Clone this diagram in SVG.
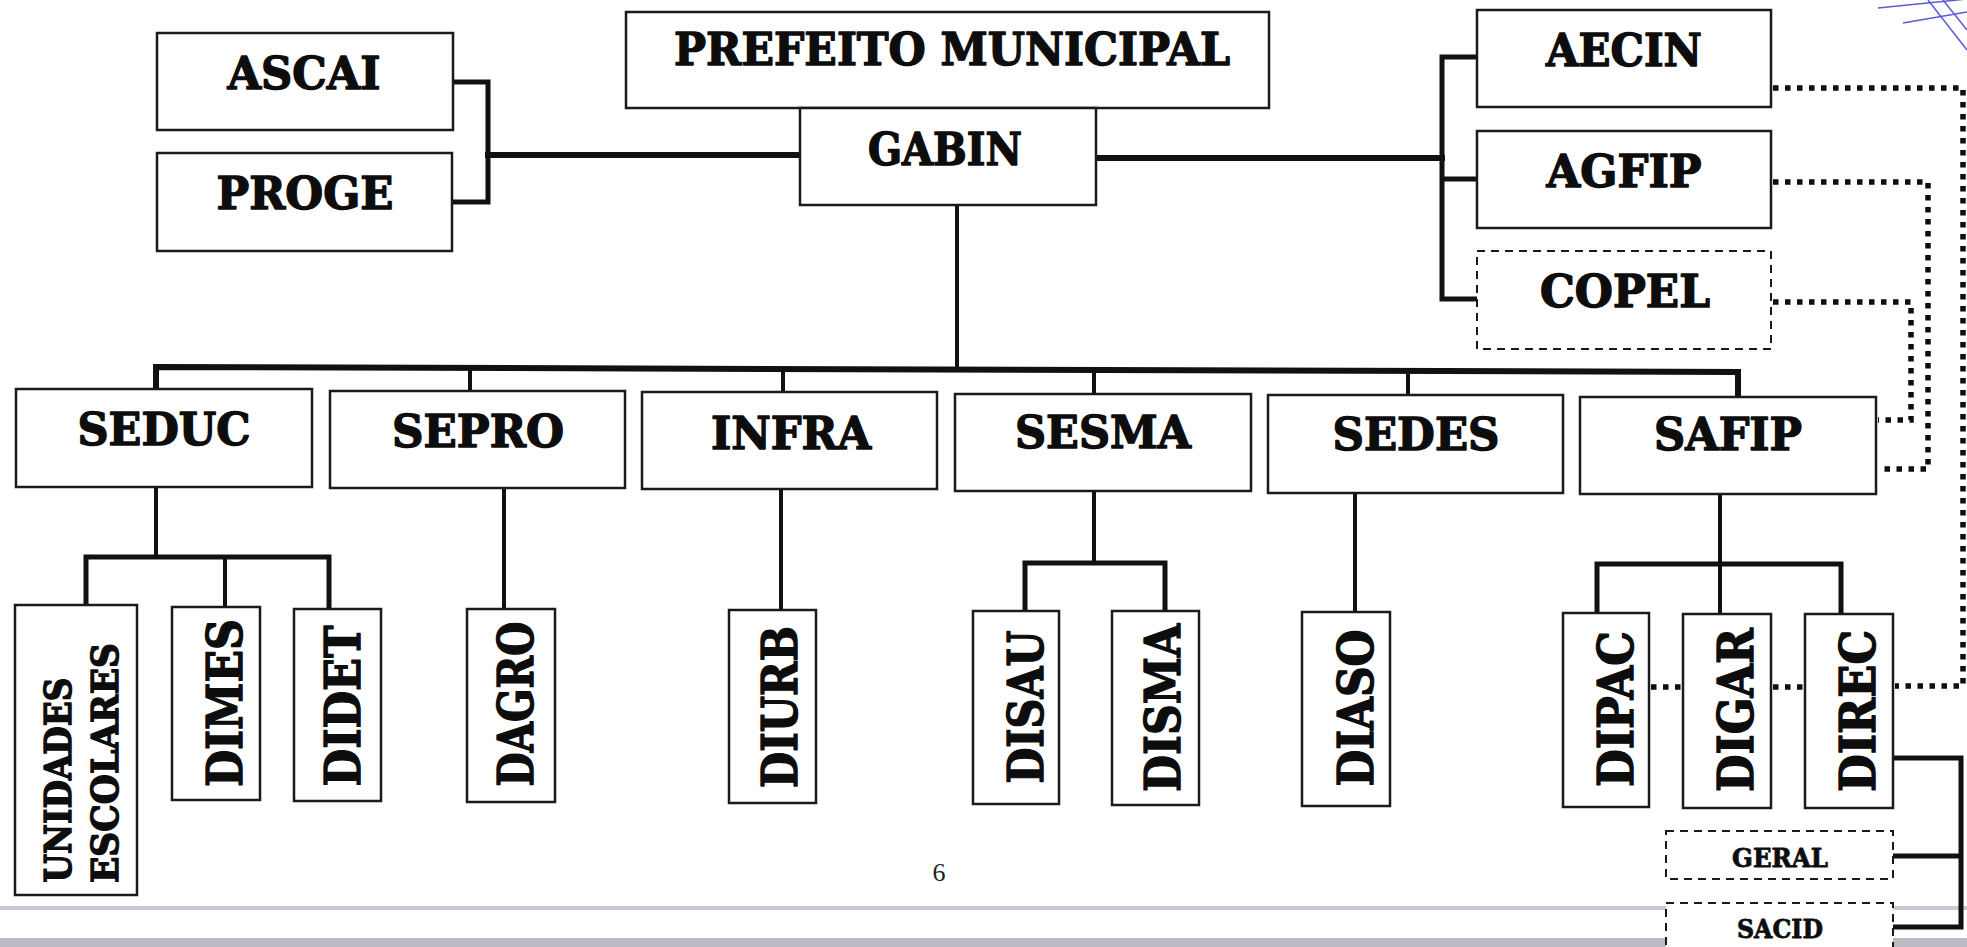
<svg xmlns="http://www.w3.org/2000/svg" width="1967" height="947" viewBox="0 0 1967 947">
<style>
.box{fill:#fff;stroke:#1a1a1a;stroke-width:2.5}
.dbox{fill:#fff;stroke:#1a1a1a;stroke-width:2;stroke-dasharray:8 6}
.t{font-family:"DejaVu Serif","Liberation Serif",serif;font-weight:bold;font-size:44px;fill:#0d0d0d;stroke:#0d0d0d;stroke-width:1.4;stroke-linejoin:round;text-anchor:middle}
.v{font-size:49px}
.u{font-size:37px}
.s{font-size:26px;stroke-width:0.8}
.ln{fill:none;stroke:#111;stroke-linecap:square}
.w6{stroke-width:6}
.w5{stroke-width:5}
.w4{stroke-width:4}
.dot{fill:none;stroke:#0d0d0d;stroke-width:5.5;stroke-dasharray:5.5 6.5}
</style>
<rect x="0" y="0" width="1967" height="947" fill="#fff"/>
<g id="scan">
<line x1="0" y1="908" x2="1967" y2="908" stroke="#c6c9d3" stroke-width="4"/>
<rect x="0" y="938" width="1967" height="9" fill="#b9bac2"/>
<g stroke="#5a5ad8" stroke-width="1.5" fill="none">
<path d="M1878,8 L1967,-1"/>
<path d="M1903,23 L1967,12"/>
<path d="M1928,0 L1967,50"/>
<path d="M1943,0 L1967,30"/>
</g>
</g>
<g id="connectors">
<path class="ln w5" d="M453,82 H488 V202 H452"/>
<path class="ln w6" d="M488,155 H800"/>
<path class="ln w6" d="M1096,158 H1442"/>
<path class="ln w5" d="M1477,57 H1442 V299 H1477 M1442,179 H1477"/>
<path class="ln w4" d="M957,205 V368"/>
<path class="ln w6" d="M156,389 V367 L1738,372 V397"/>
<path class="ln w4" d="M470,368 V391 M783,369 V392 M1094,370 V394 M1408,371 V395"/>
<path class="ln w4" d="M156,487 V557 M225,557 V607"/>
<path class="ln w5" d="M86,605 V557 H329 V609"/>
<path class="ln w4" d="M504,488 V609 M781,489 V610 M1094,491 V563 M1355,493 V612 M1720,494 V614"/>
<path class="ln w5" d="M1025,611 V563 H1165 V611"/>
<path class="ln w5" d="M1597,613 V564 H1841 V614"/>
<path class="ln w5" d="M1893,758 H1961 V927 H1893 M1893,856 H1961"/>
<path class="dot" d="M1773,88 H1963 V686 H1895"/>
<path class="dot" d="M1773,182 H1928 V469 H1878"/>
<path class="dot" d="M1773,302 H1911 V420 H1878"/>
<path class="dot" d="M1651,687 H1683 M1773,687 H1805"/>
</g>
<g id="n-prefeito"><rect class="box" x="626" y="12" width="643" height="96"/><text class="t" x="952" y="65" textLength="556" lengthAdjust="spacingAndGlyphs">PREFEITO MUNICIPAL</text></g>
<g id="n-gabin"><rect class="box" x="800" y="108" width="296" height="97"/><text class="t" x="945" y="165" textLength="154" lengthAdjust="spacingAndGlyphs">GABIN</text></g>
<g id="n-ascai"><rect class="box" x="157" y="33" width="296" height="97"/><text class="t" x="304" y="89" textLength="153" lengthAdjust="spacingAndGlyphs">ASCAI</text></g>
<g id="n-proge"><rect class="box" x="157" y="153" width="295" height="98"/><text class="t" x="305" y="209" textLength="177" lengthAdjust="spacingAndGlyphs">PROGE</text></g>
<g id="n-aecin"><rect class="box" x="1477" y="10" width="294" height="97"/><text class="t" x="1624" y="66" textLength="156" lengthAdjust="spacingAndGlyphs">AECIN</text></g>
<g id="n-agfip"><rect class="box" x="1477" y="131" width="294" height="97"/><text class="t" x="1624" y="187" textLength="155" lengthAdjust="spacingAndGlyphs">AGFIP</text></g>
<g id="n-copel"><rect class="dbox" x="1477" y="251" width="294" height="98"/><text class="t" x="1625" y="307" textLength="170" lengthAdjust="spacingAndGlyphs">COPEL</text></g>
<g id="n-seduc"><rect class="box" x="16" y="389" width="296" height="98"/><text class="t" x="164" y="445" textLength="173" lengthAdjust="spacingAndGlyphs">SEDUC</text></g>
<g id="n-sepro"><rect class="box" x="330" y="391" width="295" height="97"/><text class="t" x="478" y="447" textLength="172" lengthAdjust="spacingAndGlyphs">SEPRO</text></g>
<g id="n-infra"><rect class="box" x="642" y="392" width="295" height="97"/><text class="t" x="791" y="449" textLength="160" lengthAdjust="spacingAndGlyphs">INFRA</text></g>
<g id="n-sesma"><rect class="box" x="955" y="394" width="296" height="97"/><text class="t" x="1103" y="448" textLength="176" lengthAdjust="spacingAndGlyphs">SESMA</text></g>
<g id="n-sedes"><rect class="box" x="1268" y="395" width="295" height="98"/><text class="t" x="1416" y="450" textLength="167" lengthAdjust="spacingAndGlyphs">SEDES</text></g>
<g id="n-safip"><rect class="box" x="1580" y="397" width="296" height="97"/><text class="t" x="1728" y="450" textLength="148" lengthAdjust="spacingAndGlyphs">SAFIP</text></g>
<g id="n-unidades"><rect class="box" x="15" y="605" width="122" height="290"/>
<text class="t u" transform="translate(71,780) rotate(-90)" textLength="205" lengthAdjust="spacingAndGlyphs">UNIDADES</text>
<text class="t u" transform="translate(118,763) rotate(-90)" textLength="240" lengthAdjust="spacingAndGlyphs">ESCOLARES</text></g>
<g id="n-dimes"><rect class="box" x="172" y="607" width="88" height="193"/><text class="t v" transform="translate(242,703) rotate(-90)" textLength="168" lengthAdjust="spacingAndGlyphs">DIMES</text></g>
<g id="n-didet"><rect class="box" x="294" y="609" width="87" height="192"/><text class="t v" transform="translate(360,706) rotate(-90)" textLength="161" lengthAdjust="spacingAndGlyphs">DIDET</text></g>
<g id="n-dagro"><rect class="box" x="467" y="609" width="88" height="193"/><text class="t v" transform="translate(533,704) rotate(-90)" textLength="165" lengthAdjust="spacingAndGlyphs">DAGRO</text></g>
<g id="n-diurb"><rect class="box" x="729" y="610" width="87" height="193"/><text class="t v" transform="translate(797,707) rotate(-90)" textLength="162" lengthAdjust="spacingAndGlyphs">DIURB</text></g>
<g id="n-disau"><rect class="box" x="973" y="611" width="86" height="193"/><text class="t v" transform="translate(1043,707) rotate(-90)" textLength="153" lengthAdjust="spacingAndGlyphs">DISAU</text></g>
<g id="n-disma"><rect class="box" x="1112" y="611" width="87" height="194"/><text class="t v" transform="translate(1180,708) rotate(-90)" textLength="168" lengthAdjust="spacingAndGlyphs">DISMA</text></g>
<g id="n-diaso"><rect class="box" x="1302" y="612" width="88" height="194"/><text class="t v" transform="translate(1373,708) rotate(-90)" textLength="157" lengthAdjust="spacingAndGlyphs">DIASO</text></g>
<g id="n-dipac"><rect class="box" x="1563" y="613" width="86" height="194"/><text class="t v" transform="translate(1633,709) rotate(-90)" textLength="156" lengthAdjust="spacingAndGlyphs">DIPAC</text></g>
<g id="n-digar"><rect class="box" x="1683" y="614" width="88" height="194"/><text class="t v" transform="translate(1753,710) rotate(-90)" textLength="164" lengthAdjust="spacingAndGlyphs">DIGAR</text></g>
<g id="n-direc"><rect class="box" x="1805" y="614" width="88" height="194"/><text class="t v" transform="translate(1875,711) rotate(-90)" textLength="162" lengthAdjust="spacingAndGlyphs">DIREC</text></g>
<g id="n-geral"><rect class="dbox" x="1666" y="831" width="227" height="48"/><text class="t s" x="1780" y="867" textLength="96" lengthAdjust="spacingAndGlyphs">GERAL</text></g>
<g id="n-sacid"><rect class="dbox" x="1666" y="903" width="227" height="60"/><text class="t s" x="1780" y="938" textLength="86" lengthAdjust="spacingAndGlyphs">SACID</text></g>
<text x="939" y="881" font-family="Liberation Serif, serif" font-size="26" fill="#222" text-anchor="middle">6</text>
</svg>
